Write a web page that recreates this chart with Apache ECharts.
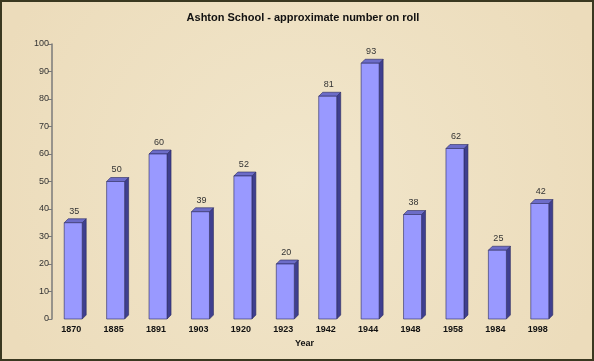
<!DOCTYPE html>
<html><head><meta charset="utf-8">
<script src="https://cdn.jsdelivr.net/npm/echarts@6/dist/echarts.min.js"></script>
<style>
html,body{margin:0;padding:0;}
#wrap{width:594px;height:361px;box-sizing:border-box;border:2px solid #3a3820;background:#efe2c4;}
#c{width:590px;height:357px;}
</style></head><body>
<div id="wrap"><div id="c"></div></div>
<script>
var years = ['1870','1885','1891','1903','1920','1923','1942','1944','1948','1958','1984','1998'];
var roll = [35,50,60,39,52,20,81,93,38,62,25,42];
var yTicks = [0,10,20,30,40,50,60,70,80,90,100];

var chart = echarts.init(document.getElementById('c'));
var data = roll.map(function(v,i){return [i,v];});
chart.setOption({
  backgroundColor: {type:'radial',x:0.5,y:0.5,r:0.9,colorStops:[{offset:0,color:'#f1e6cb'},{offset:1,color:'#ecdcbb'}]},
  animation:false,
  title:{text:'Ashton School - approximate number on roll',left:296,top:5,textAlign:'center',
    textStyle:{fontFamily:'Arial, Liberation Sans',fontSize:11,fontWeight:'bold',color:'#111'}},
  grid:{left:48,top:42,right:33,bottom:40},
  xAxis:{type:'category',data:years,name:'Year',nameLocation:'middle',nameGap:18,
    nameTextStyle:{fontFamily:'Arial, Liberation Sans',fontSize:9,fontWeight:'bold',color:'#111'},
    axisLine:{show:false},axisTick:{show:false},
    axisLabel:{margin:6,fontFamily:'Arial, Liberation Sans',fontSize:9,fontWeight:'bold',color:'#111'}},
  yAxis:{type:'value',min:0,max:100,interval:10,offset:-2,
    axisLine:{show:true,lineStyle:{color:'#7a7a7a',width:1.5}},
    axisTick:{show:true,length:4,lineStyle:{color:'#7a7a7a'}},
    splitLine:{show:false},
    axisLabel:{margin:3,fontFamily:'Arial, Liberation Sans',fontSize:9,color:'#333',
      formatter:function(v){return yTicks.indexOf(v)>=0?String(v):'';}}},
  series:[{type:'custom',data:data,encode:{x:0,y:1},
    renderItem:function(params,api){
      var top=api.coord([api.value(0),api.value(1)]);
      var base=api.coord([api.value(0),0]);
      var cx=top[0]+2, hw=9, d=4;
      var x0=cx-hw, x1=cx+hw, yt=top[1], yb=base[1];
      return {type:'group',children:[
        {type:'polygon',shape:{points:[[x1,yt],[x1+d,yt-d],[x1+d,yb-d],[x1,yb]]},
          style:{fill:'#3f3f8f',stroke:'#2a2a60',lineWidth:0.6}},
        {type:'polygon',shape:{points:[[x0,yt],[x0+d,yt-d],[x1+d,yt-d],[x1,yt]]},
          style:{fill:'#6c6cc8',stroke:'#2a2a60',lineWidth:0.6}},
        {type:'rect',shape:{x:x0,y:yt,width:x1-x0,height:yb-yt},
          style:{fill:'#9999ff',stroke:'#2a2a60',lineWidth:0.6}},
        {type:'text',style:{text:String(api.value(1)),x:cx+1,y:yt-d-3,align:'center',verticalAlign:'bottom',
          font:'9px Arial, "Liberation Sans"',fill:'#333'}}
      ]};
    }}]
});
</script>
</body></html>
